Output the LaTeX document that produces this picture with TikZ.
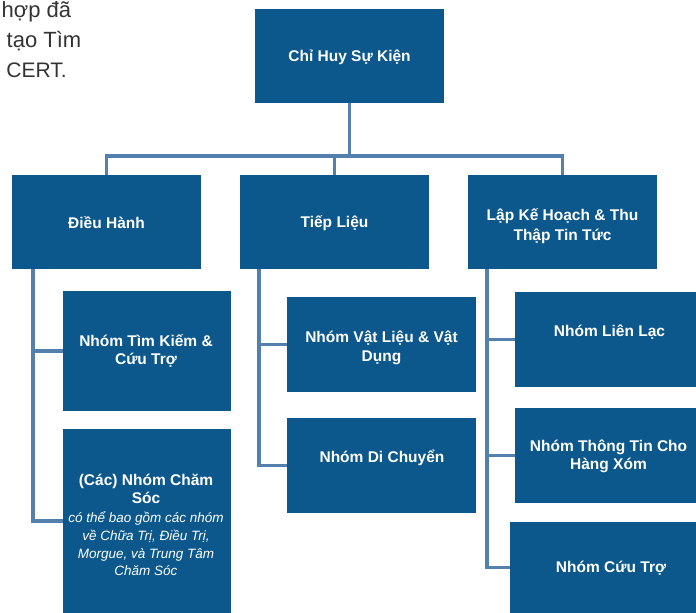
\documentclass[tikz,border=0pt]{standalone}
\usepackage{fontspec}
\setmainfont{Liberation Sans}
\usetikzlibrary{backgrounds}
\definecolor{boxblue}{HTML}{0C588C}
\definecolor{linkblue}{HTML}{5480AE}
\definecolor{txtgray}{HTML}{333333}
\begin{document}
\begin{tikzpicture}[x=1pt,y=-1pt,
  box/.style={fill=boxblue, draw=none, inner sep=0pt},
  lbl/.style={text=white, font=\bfseries\fontsize{15.5}{18.5}\selectfont, align=center, inner sep=0pt},
  note/.style={text=white, font=\itshape\fontsize{13.5}{17.6}\selectfont, align=center, inner sep=0pt},
  side/.style={text=txtgray, font=\fontsize{22}{30}\selectfont, inner sep=0pt, anchor=base west},
  conn/.style={draw=linkblue, line width=3.5pt, line join=miter}
]
\useasboundingbox (0,0) rectangle (696,613);

% side text (left part lies outside the picture)
\node[side] (s1) at (1.5,17.3) {hợp đã};
\node[side] (s2) at (6.5,47.3) {tạo Tìm};
\node[side, font=\fontsize{21}{30}\selectfont] (s3) at (6.2,77.3) {CERT.};

% boxes
\node[box, minimum width=189, minimum height=94] (top) at (349.5,56) {};
\node[box, minimum width=189, minimum height=94] (dh) at (106.5,222) {};
\node[box, minimum width=189, minimum height=94] (tl) at (334.5,222) {};
\node[box, minimum width=189, minimum height=94] (lk) at (562.5,222) {};
\node[box, minimum width=168, minimum height=120] (tk) at (147,351) {};
\node[box, minimum width=168, minimum height=184] (cs) at (147,521) {};
\node[box, minimum width=189, minimum height=95] (vl) at (381.5,344.5) {};
\node[box, minimum width=189, minimum height=95] (dc) at (381.5,465.5) {};
\node[box, minimum width=181, minimum height=95] (ll) at (605.5,339.5) {};
\node[box, minimum width=181, minimum height=95] (tt) at (605.5,455.5) {};
\node[box, minimum width=186, minimum height=91] (ct) at (603,567.5) {};

% labels
\node[lbl] (topt) at (349.5,57) {Chỉ Huy Sự Kiện};
\node[lbl] (dht) at (106.5,223) {Điều Hành};
\node[lbl] (tlt) at (334.5,223) {Tiếp Liệu};
\node[lbl, font=\bfseries\fontsize{15.5}{20}\selectfont] (lkt) at (562.5,226) {Lập Kế Hoạch \& Thu\\Thập Tin Tức};
\node[lbl, font=\bfseries\fontsize{15.5}{17.5}\selectfont] (tkt) at (146,351) {Nhóm Tìm Kiếm \&\\Cứu Trợ};
\node[lbl] (cst) at (146,489) {(Các) Nhóm Chăm\\Sóc};
\node[note] (csn) at (146,544) {có thể bao gồm các nhóm\\về Chữa Trị, Điều Trị,\\Morgue, và Trung Tâm\\Chăm Sóc};
\node[lbl] (vlt) at (381.5,348) {Nhóm Vật Liệu \& Vật\\Dụng};
\node[lbl] (dct) at (382,458) {Nhóm Di Chuyển};
\node[lbl] (llt) at (609.5,332) {Nhóm Liên Lạc};
\node[lbl] (ttt) at (608.5,456.5) {Nhóm Thông Tin Cho\\Hàng Xóm};
\node[lbl] (ctt) at (611,568) {Nhóm Cứu Trợ};

% connectors
\coordinate (bus) at (349,156);
\coordinate (sA) at (33,0);
\coordinate (sB) at (259,0);
\coordinate (sC) at (487,0);
\begin{scope}[on background layer]
  \draw[conn] (top.south) -- (top.south |- bus);
  \draw[conn] (dh.north) -- (dh.north |- bus) -- (lk.north |- bus) -- (lk.north);
  \draw[conn] (tl.north) -- (tl.north |- bus);
  \draw[conn] (dh.south -| sA) |- (cs.west);
  \draw[conn] (sA |- tk.west) -- (tk.west);
  \draw[conn] (tl.south -| sB) |- (dc.west);
  \draw[conn] (sB |- vl.west) -- (vl.west);
  \draw[conn] (lk.south -| sC) |- (ct.west);
  \draw[conn] (sC |- ll.west) -- (ll.west);
  \draw[conn] (sC |- tt.west) -- (tt.west);
\end{scope}
\end{tikzpicture}
\end{document}
